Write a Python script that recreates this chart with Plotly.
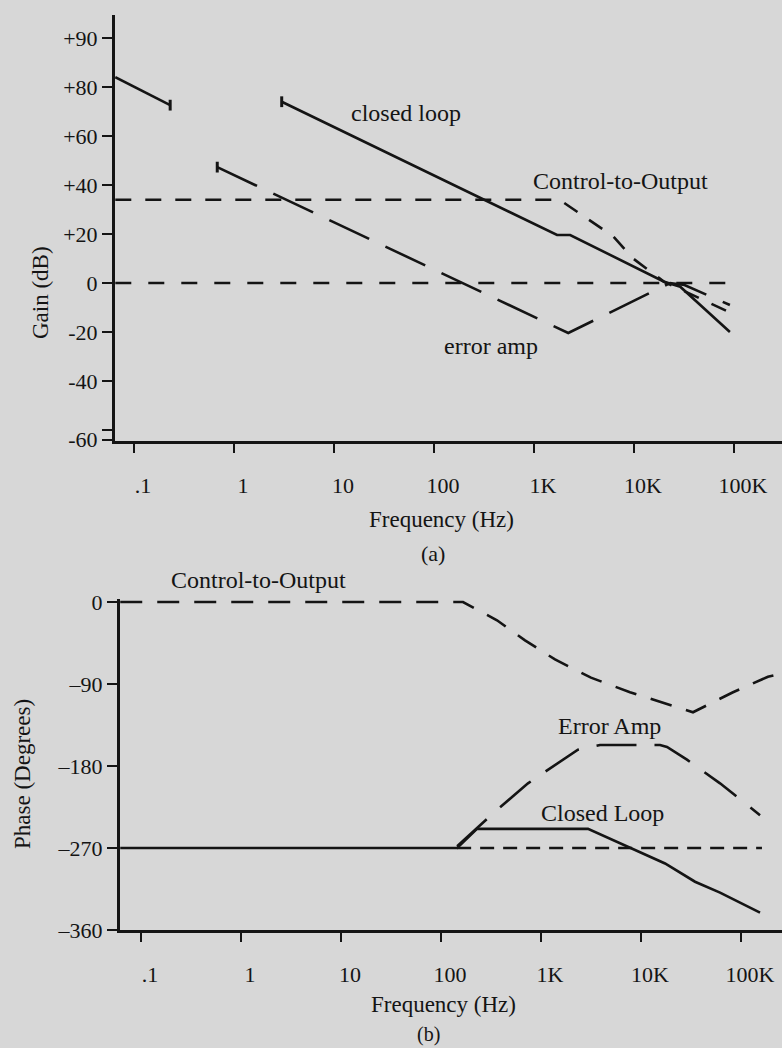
import plotly.graph_objects as go

W, H = 782, 1048
BG = "#d7d7d7"
INK = "#141414"
FONT = "Liberation Serif"

# ---------------- (a) Gain data ----------------
freq_ticks = [0.1, 1, 10, 100, 1000, 10000, 100000]
freq_labels = [".1", "1", "10", "100", "1K", "10K", "100K"]

gain_ticks = [-64, -60, -40, -20, 0, 20, 40, 60, 80, 100]
gain_labels = ["-60", "", "-40", "-20", "0", "+20", "+40", "+60", "+80", "+90"]

cl_gain_f1 = [0.065, 0.23]
cl_gain_db1 = [84, 72.6]
cl_gain_f2 = [3.0, 1700, 2300, 20000, 29000, 91000]
cl_gain_db2 = [74, 19.6, 19.6, 0.5, -1.5, -20]

cto_gain_f = [0.065, 1800, 6200, 9800, 20000, 91000]
cto_gain_db = [34, 34, 19, 10, 0.5, -12]

ea_gain_f = [0.68, 2200, 23000, 32000, 91000]
ea_gain_db = [47.3, -20.4, 0, -0.8, -9]

ref0_f = [0.065, 120000]
ref0_db = [0, 0]

# ---------------- (b) Phase data ----------------
phase_ticks = [-360, -270, -180, -90, 0]
phase_labels = ["–360", "–270", "–180", "–90", "0"]

cto_ph_f = [0.062, 166, 363, 692, 1380, 3160, 7760, 16200, 33100, 83200, 186000, 245000]
cto_ph = [0, 0, -20, -42, -63, -83, -99, -110, -121, -99, -82, -79]

ea_ph_f = [145, 347, 741, 2340, 3890, 15500, 18200, 28800, 61700, 155000]
ea_ph = [-268, -230, -199, -162, -157, -157, -159, -173, -199, -234]

cl_ph_f = [0.062, 145, 229, 2950, 17400, 34700, 61700, 155000]
cl_ph = [-270, -270, -249, -249, -287, -307, -319, -341]

ref270_f = [145, 162000]
ref270 = [-270, -270]


def px_x(px):
    return px / W


def px_y(py):
    return 1 - py / H


fig = go.Figure()
LW = 2.6


def line(x, y, dash="solid", xa="x", ya="y", width=LW):
    fig.add_trace(go.Scatter(x=x, y=y, mode="lines", xaxis=xa, yaxis=ya,
                             line=dict(color=INK, width=width, dash=dash),
                             hoverinfo="skip", showlegend=False))


# (a)
line(ref0_f, ref0_db, "16px,17px")
line(cto_gain_f, cto_gain_db, "16px,14px")
line(ea_gain_f, ea_gain_db, "44px,18px")
line(cl_gain_f1, cl_gain_db1)
line(cl_gain_f2, cl_gain_db2)
# break markers at the ends of the broken segments
for f, v in [(cl_gain_f1[-1], cl_gain_db1[-1]), (cl_gain_f2[0], cl_gain_db2[0]),
             (ea_gain_f[0], ea_gain_db[0])]:
    line([f, f], [v - 2.2, v + 2.2], width=3)

# (b)
line(ref270_f, ref270, "14px,9px", "x2", "y2")
line(cto_ph_f, cto_ph, "22px,15px", "x2", "y2")
line(ea_ph_f, ea_ph, "40px,18px", "x2", "y2")
line(cl_ph_f, cl_ph, "solid", "x2", "y2")

tickfont = dict(family=FONT, size=22, color=INK)
common_x = dict(type="log", showline=True, linewidth=3, linecolor=INK,
                ticks="outside", ticklen=9, tickwidth=2, tickcolor=INK,
                tickvals=freq_ticks, ticktext=freq_labels, tickfont=tickfont,
                showgrid=False, zeroline=False, ticklabelshift=9,
                ticklabelstandoff=14, automargin=False)
common_y = dict(showline=True, linewidth=3, linecolor=INK,
                ticks="outside", ticklen=10, tickwidth=2, tickcolor=INK,
                tickfont=tickfont, showgrid=False, zeroline=False,
                automargin=False)

fig.update_layout(
    template="none",
    width=W, height=H, autosize=False,
    margin=dict(l=0, r=0, t=0, b=0, pad=0),
    paper_bgcolor=BG, plot_bgcolor=BG,
    showlegend=False,
    xaxis=dict(common_x, range=[-1.19, 5.48], domain=[px_x(115), 1], anchor="y"),
    yaxis=dict(common_y, range=[-64.5, 109.4], domain=[px_y(441), px_y(15)],
               anchor="x", tickvals=gain_ticks, ticktext=gain_labels),
    xaxis2=dict(common_x, range=[-1.21, 5.41], domain=[px_x(120), 1], anchor="y2"),
    yaxis2=dict(common_y, range=[-360, 3], domain=[px_y(930), px_y(599.3)],
                anchor="x2", tickvals=phase_ticks, ticktext=phase_labels),
)


def text(s, x, y, size=24, angle=0):
    fig.add_annotation(text=s, x=px_x(x), y=px_y(y), xref="paper", yref="paper",
                       showarrow=False, textangle=angle,
                       font=dict(family=FONT, size=size, color=INK),
                       xanchor="center", yanchor="middle")


text("closed loop", 406, 113)
text("Control-to-Output", 620, 181)
text("error amp", 491, 346)
text("Gain (dB)", 40, 293, 23, -90)
text("Frequency (Hz)", 441, 519, 23)
text("(a)", 433, 553, 22)

text("Control-to-Output", 258, 580)
text("Error Amp", 609, 726)
text("Closed Loop", 602, 813)
text("Phase (Degrees)", 22, 774, 23, -90)
text("Frequency (Hz)", 443, 1004, 23)
text("(b)", 428, 1034, 20)

fig.write_html(
    "out.html",
    config={"displayModeBar": False},
    post_script="document.body.style.margin='0';"
                "document.body.style.overflow='hidden';"
                "document.body.style.background='" + BG + "';",
)
